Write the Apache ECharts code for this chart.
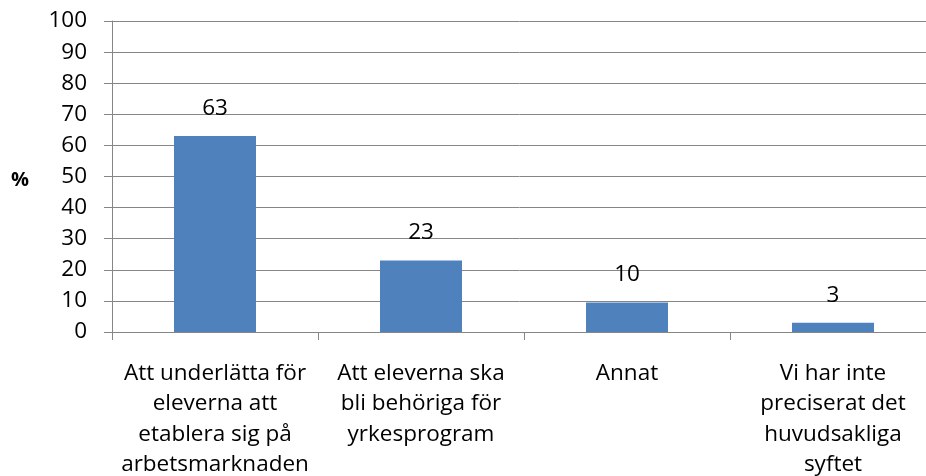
<!DOCTYPE html>
<html>
<head>
<meta charset="utf-8">
<script src="https://cdn.jsdelivr.net/npm/echarts@6/dist/echarts.min.js"></script>
<style>
html, body { margin: 0; padding: 0; background: #fff; }
#main { width: 926px; height: 476px; }
</style>
</head>
<body>
<div id="main"></div>
<script>
var categories = [
    'Att underlätta för\neleverna att\netablera sig på\narbetsmarknaden',
    'Att eleverna ska\nbli behöriga för\nyrkesprogram',
    'Annat',
    'Vi har inte\npreciserat det\nhuvudsakliga\nsyftet'
];
var values = [63, 23, 9.5, 3];
var yTicks = { min: 0, max: 100, interval: 10 };

var font = '"Open Sans", sans-serif';
var chart = echarts.init(document.getElementById('main'));
chart.setOption({
    animation: false,
    grid: { left: 112, top: 21, width: 824, height: 311, outerBoundsMode: 'none', containLabel: false },
    xAxis: {
        type: 'category',
        data: categories,
        axisLine: { lineStyle: { color: '#868686', width: 1 } },
        axisTick: { show: true, length: 8, lineStyle: { color: '#868686' } },
        axisLabel: {
            interval: 0, margin: 26, color: '#000',
            fontFamily: font, fontSize: 22.5, lineHeight: 30.5, align: 'center'
        }
    },
    yAxis: {
        type: 'value',
        min: yTicks.min, max: yTicks.max, interval: yTicks.interval,
        name: '%',
        nameLocation: 'middle',
        nameRotate: 0,
        nameGap: 83,
        nameTextStyle: {
            fontFamily: font, fontSize: 20, fontWeight: 'bold', color: '#000',
            verticalAlign: 'top', lineHeight: 8
        },
        axisLine: { show: true, lineStyle: { color: '#868686', width: 1 } },
        axisTick: { show: true, length: 8, lineStyle: { color: '#868686' } },
        axisLabel: { margin: 25, color: '#000', fontFamily: font, fontSize: 22.5 },
        splitLine: { lineStyle: { color: '#868686', width: 1 } }
    },
    series: [{
        type: 'bar',
        data: values,
        barWidth: 82,
        itemStyle: { color: '#4F81BD' },
        label: {
            show: true, position: 'top', distance: 16,
            color: '#000', fontFamily: font, fontSize: 22.5,
            formatter: function (p) { return Math.round(p.value); }
        }
    }]
});
</script>
</body>
</html>
